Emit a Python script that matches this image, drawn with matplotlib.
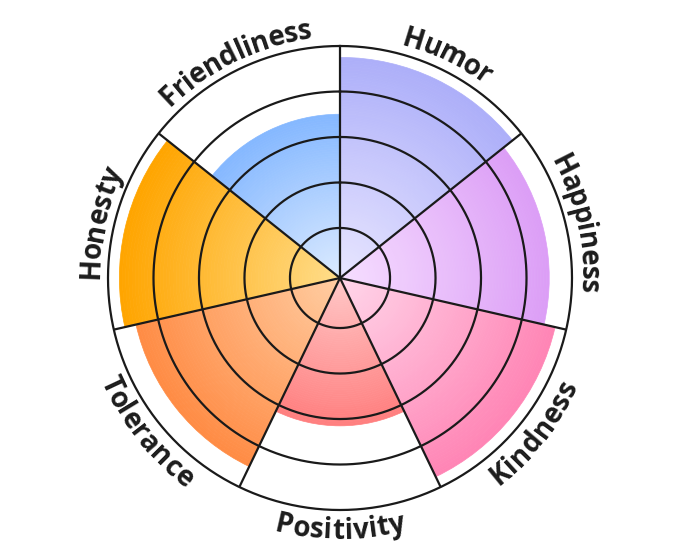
import numpy as np
import matplotlib
matplotlib.use("Agg")
import matplotlib.pyplot as plt
from matplotlib.colors import to_rgb
from matplotlib.font_manager import FontProperties

# ---------------- data ----------------
categories = ["Humor", "Happiness", "Kindness", "Positivity",
              "Tolerance", "Honesty", "Friendliness"]
values = [9.5, 9.0, 9.5, 6.3, 9.0, 9.5, 7.0]
ring_ticks = [2, 4, 6, 8, 10]
inner_colors = ["#E8E6FF", "#F6DEFF", "#FFD6EA", "#FFC8C8",
                "#FFCDA2", "#FFDD8A", "#DCEBFF"]
outer_colors = ["#ADAFF9", "#DC9EF6", "#FF85B5", "#FF7F7F",
                "#FF8C45", "#FFA500", "#85B8FF"]
r_min, r_max = -0.2, 10

# ---------------- figure ----------------
W, H = 680, 557
fig = plt.figure(figsize=(W / 100, H / 100), dpi=100)
cx, cy, R = 340, 279, 232
ax = fig.add_axes([(cx - R) / W, (cy - R) / H, 2 * R / W, 2 * R / H],
                  projection="polar")
ax.set_theta_zero_location("N")
ax.set_theta_direction(-1)
ax.set_ylim(r_min, r_max)
ax.set_axis_off()

n = len(categories)
width = 2 * np.pi / n
line_col = "#1a1a1a"
steps = 70

for i, v in enumerate(values):
    c0 = np.array(to_rgb(inner_colors[i]))
    c1 = np.array(to_rgb(outer_colors[i]))
    edges = np.linspace(r_min, v, steps + 1)
    fr = np.linspace(0, 1, steps)
    cols = c0[None, :] * (1 - fr[:, None]) + c1[None, :] * fr[:, None]
    ax.bar(np.full(steps, i * width), np.diff(edges), width=width,
           bottom=edges[:-1], align="edge", color=cols, edgecolor=cols,
           linewidth=0.5, zorder=2)

circ = np.linspace(0, 2 * np.pi, 721)
for r in ring_ticks:
    ax.plot(circ, np.full_like(circ, r), color=line_col, lw=1.6, zorder=5,
            clip_on=False)
for i in range(n):
    t = i * width
    ax.plot([t, t], [r_min, r_max], color=line_col, lw=1.6, zorder=5,
            solid_capstyle="butt")

# ---------------- curved labels ----------------
prop = FontProperties(family=["Open Sans", "DejaVu Sans"], weight="bold", size=20)
renderer = fig.canvas.get_renderer()


def text_w(s):
    if not s:
        return 0.0
    w, h, d = renderer.get_text_width_height_descent(s, prop, ismath=False)
    return w


Rc = 251.0
for i, lab in enumerate(categories):
    theta_mid = (i + 0.5) * width
    a_mid = np.pi / 2 - theta_mid
    upper = np.sin(a_mid) >= 0
    total = text_w(lab)
    prev = 0.0
    for k, ch in enumerate(lab):
        cur = text_w(lab[:k + 1])
        s = 0.5 * (prev + cur) - total / 2
        prev = cur
        d = s / Rc
        if upper:
            a = a_mid - d
            rot = np.degrees(a) - 90
            rb = 241.0
        else:
            a = a_mid + d
            rot = np.degrees(a) + 90
            rb = 261.0
        th_d = np.pi / 2 - a
        r_d = r_min + rb / R * (r_max - r_min)
        ax.text(th_d, r_d, ch, fontproperties=prop, color="#1c1c1c",
                rotation=rot, rotation_mode="anchor", ha="center",
                va="baseline", clip_on=False)

fig.savefig("out.png", dpi=100)
